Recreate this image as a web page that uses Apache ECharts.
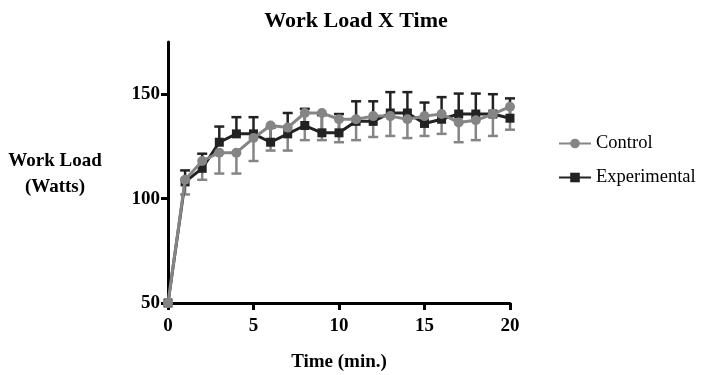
<!DOCTYPE html>
<html>
<head>
<meta charset="utf-8">
<script src="https://cdn.jsdelivr.net/npm/echarts@6/dist/echarts.min.js"></script>
<style>html,body{margin:0;padding:0;background:#fff}#c{width:702px;height:375px}</style>
</head>
<body>
<div id="c"></div>
<script>
var times = [0,1,2,3,4,5,6,7,8,9,10,11,12,13,14,15,16,17,18,19,20];
var controlMean = [50,109,118,122,122,129,135,134,141,141,138,138,139.5,139.5,138,139.5,140.5,136.5,137.5,140.5,144];
var controlErr  = [0,7,9,10,10,11,12,11,13,13,11,10,10,9.5,9,9.5,9.5,9.5,9.5,10.5,11];
var expMean = [50,108,114.5,127,131,131,127,131,135,131.5,131.5,137,137,141,141,136,138,140.5,140.5,140.5,138.5];
var expErr  = [0,5.5,7,7.5,8,8,7,10,8,8.5,9,9.6,9.6,10,10,10,10.6,9.8,9.8,9.5,9.5];
var yTicks = [50,100,150];
var xTicks = [0,5,10,15,20];

var CTRL = '#858585', EXP = '#222222';
var FONT = '"Liberation Serif","Times New Roman",serif';

function errData(mean, err, up) {
  return times.map(function (t, i) {
    return up ? [t, mean[i], mean[i] + err[i]] : [t, mean[i] - err[i], mean[i]];
  }).filter(function (d, i) { return err[i] > 0; });
}
function errRender(color, up) {
  return function (params, api) {
    var x = api.value(0);
    var lo = api.coord([x, api.value(1)]);
    var hi = api.coord([x, api.value(2)]);
    var capY = up ? hi[1] : lo[1];
    var w = 5;
    return {
      type: 'group',
      children: [
        {type: 'line', shape: {x1: lo[0], y1: lo[1], x2: hi[0], y2: hi[1]}, style: {stroke: color, lineWidth: 2.5}},
        {type: 'line', shape: {x1: lo[0] - w, y1: capY, x2: lo[0] + w, y2: capY}, style: {stroke: color, lineWidth: 2.5}}
      ]
    };
  };
}

var chart = echarts.init(document.getElementById('c'), null, {renderer: 'canvas'});
chart.setOption({
  animation: false,
  title: {
    text: 'Work Load X Time', left: 351, top: 5, textAlign: 'center',
    textStyle: {fontFamily: FONT, fontWeight: 'bold', fontSize: 22, color: '#000'}
  },
  legend: {
    orient: 'vertical', left: 553, top: 129, itemGap: 15, itemWidth: 32, itemHeight: 12,
    textStyle: {fontFamily: FONT, fontSize: 18.5, color: '#000'},
    data: ['Control', 'Experimental']
  },
  grid: {left: 168, right: 192, top: 42, bottom: 72, containLabel: false, outerBoundsMode: 'none'},
  xAxis: {
    type: 'value', min: 0, max: 20, interval: 5,
    name: 'Time (min.)', nameLocation: 'middle', nameGap: 50,
    nameTextStyle: {fontFamily: FONT, fontWeight: 'bold', fontSize: 19, color: '#000'},
    axisLine: {onZero: false, lineStyle: {color: '#000', width: 3}},
    axisTick: {show: true, length: 7, lineStyle: {color: '#000', width: 3}, customValues: xTicks},
    axisLabel: {fontFamily: FONT, fontWeight: 'bold', fontSize: 19, color: '#000', margin: 14, customValues: xTicks},
    splitLine: {show: false}
  },
  yAxis: {
    type: 'value', min: 50, max: 175, interval: 25,
    axisLine: {show: true, onZero: false, lineStyle: {color: '#000', width: 3}},
    axisTick: {show: true, length: 7, lineStyle: {color: '#000', width: 3}, customValues: yTicks},
    axisLabel: {fontFamily: FONT, fontWeight: 'bold', fontSize: 19, color: '#000', margin: 8, customValues: yTicks},
    splitLine: {show: false}
  },
  graphic: [{
    type: 'text', x: 55, y: 148.5,
    style: {text: 'Work Load\n(Watts)', fontFamily: FONT, fontWeight: 'bold', fontSize: 19, fill: '#000', align: 'center', verticalAlign: 'top', lineHeight: 26}
  }],
  series: [
    {type: 'custom', name: 'expErr', renderItem: errRender(EXP, true), data: errData(expMean, expErr, true), encode: {x: 0, y: [1, 2]}, z: 2, silent: true},
    {type: 'custom', name: 'ctrlErr', renderItem: errRender(CTRL, false), data: errData(controlMean, controlErr, false), encode: {x: 0, y: [1, 2]}, z: 3, silent: true},
    {type: 'line', name: 'Experimental', data: times.map(function (t, i) { return [t, expMean[i]]; }),
     symbol: 'rect', symbolSize: 9, itemStyle: {color: EXP}, lineStyle: {color: EXP, width: 3}, z: 4},
    {type: 'line', name: 'Control', data: times.map(function (t, i) { return [t, controlMean[i]]; }),
     symbol: 'circle', symbolSize: 10, itemStyle: {color: CTRL}, lineStyle: {color: CTRL, width: 3}, z: 5}
  ]
});
</script>
</body>
</html>
